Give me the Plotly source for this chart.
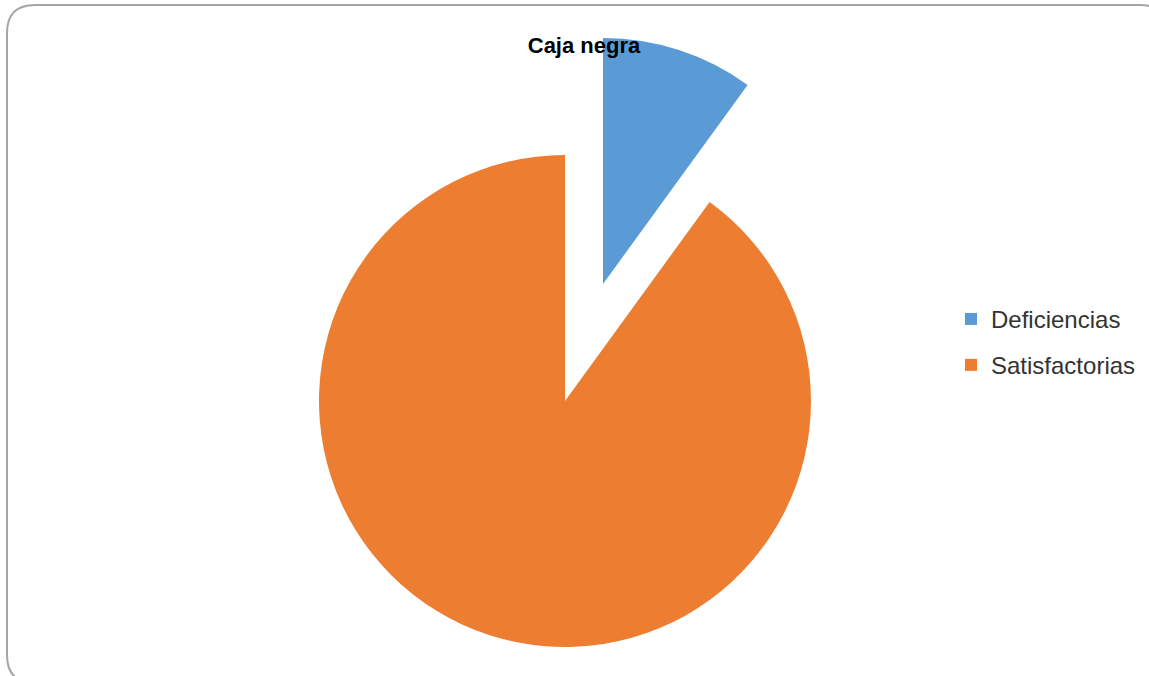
import plotly.graph_objects as go

# ---- data ----
labels = ["Deficiencias", "Satisfactorias"]
values = [10, 90]
colors = ["#5B9BD5", "#ED7D31"]
pulls = [0.5, 0]
title_text = "Caja negra"

W, H = 1149, 780  # canvas taller than the window so the pulled slice fits


def fx(px):
    return px / W


def fy(py):
    return 1 - py / H


# legend labels: visible text at 24px, row spacing driven by the legend font size
legend_labels = [
    f"<span style='font-size:24px;baseline-shift:4px'>{lab}</span>" for lab in labels
]

fig = go.Figure(
    go.Pie(
        labels=legend_labels,
        values=values,
        marker=dict(colors=colors, line=dict(width=0)),
        pull=pulls,
        sort=False,
        direction="clockwise",
        rotation=0,
        textinfo="none",
        hoverinfo="value+percent",
        domain=dict(x=[fx(165), fx(965)], y=[fy(770), fy(32)]),
    )
)

# rounded frame
x0, y0, x1, y1, r = 7, 5, 1168, 683, 28
path = (
    f"M {fx(x0 + r)},{fy(y0)} L {fx(x1 - r)},{fy(y0)} "
    f"Q {fx(x1)},{fy(y0)} {fx(x1)},{fy(y0 + r)} "
    f"L {fx(x1)},{fy(y1 - r)} Q {fx(x1)},{fy(y1)} {fx(x1 - r)},{fy(y1)} "
    f"L {fx(x0 + r)},{fy(y1)} Q {fx(x0)},{fy(y1)} {fx(x0)},{fy(y1 - r)} "
    f"L {fx(x0)},{fy(y0 + r)} Q {fx(x0)},{fy(y0)} {fx(x0 + r)},{fy(y0)} Z"
)

fig.update_layout(
    width=W,
    height=H,
    margin=dict(l=0, r=0, t=0, b=0),
    paper_bgcolor="white",
    plot_bgcolor="white",
    title=dict(
        text=f"<b>{title_text}</b>",
        x=fx(584),
        xanchor="center",
        y=fy(45),
        yanchor="middle",
        font=dict(family="Liberation Sans, Arial, sans-serif", size=22, color="#000000"),
    ),
    legend=dict(
        x=fx(951),
        xanchor="left",
        y=fy(291),
        yanchor="top",
        font=dict(family="Liberation Sans, Arial, sans-serif", size=33, color="#333333"),
        bgcolor="rgba(0,0,0,0)",
    ),
    shapes=[
        dict(
            type="path",
            path=path,
            xref="paper",
            yref="paper",
            line=dict(color="rgb(165,165,165)", width=2),
            fillcolor="rgba(0,0,0,0)",
            layer="below",
        )
    ],
)

fig.write_html(
    "out.html",
    config={"displayModeBar": False},
    post_script="document.body.style.margin='0';document.body.style.overflow='hidden';",
)
